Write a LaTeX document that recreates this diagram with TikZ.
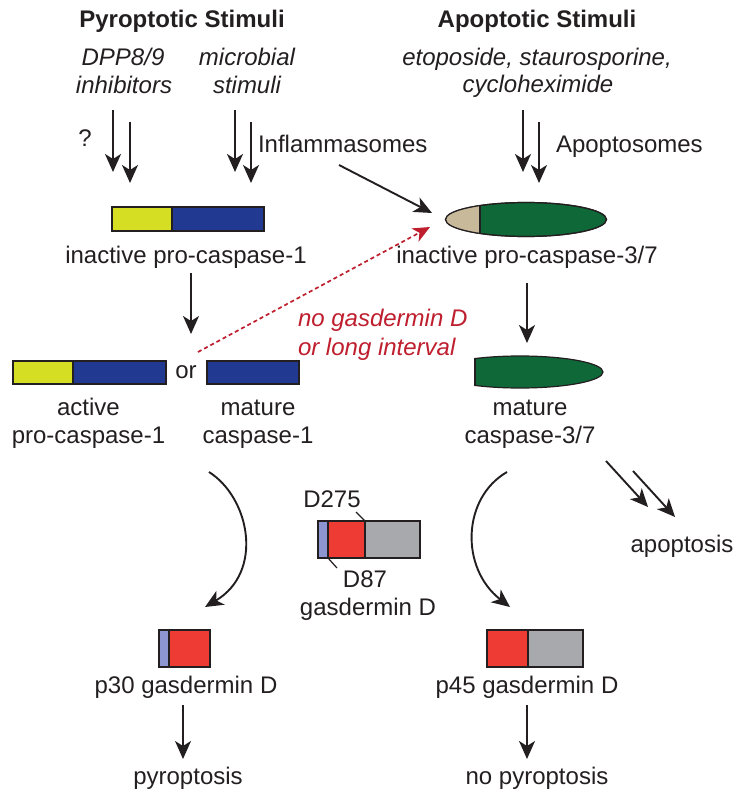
\documentclass[tikz,border=0pt]{standalone}
\usepackage{fontspec}
\setmainfont{Liberation Sans}
\usetikzlibrary{arrows.meta,shapes.geometric}
\definecolor{cyel}{RGB}{214,222,36}
\definecolor{cblue}{RGB}{33,57,145}
\definecolor{ctan}{RGB}{200,185,155}
\definecolor{cgreen}{RGB}{14,104,55}
\definecolor{cred}{RGB}{238,59,51}
\definecolor{clblue}{RGB}{142,150,210}
\definecolor{cgrey}{RGB}{167,169,172}
\definecolor{ctxtred}{RGB}{190,30,45}
\definecolor{cline}{RGB}{35,31,32}
\begin{document}
\begin{tikzpicture}[x=1pt,y=-1pt,
  every node/.style={font=\fontsize{24}{27.5}\selectfont, inner sep=0pt, outer sep=0pt, text=cline},
  lbl/.style={anchor=base},
  lblw/.style={anchor=base west},
  bar/.style={draw=cline, line width=1.2pt, minimum height=#1, rectangle},
  bar/.default=24pt,
  arr/.style={draw=cline, line width=1.9pt, -{Stealth[length=18pt,width=16pt,inset=5pt]}},
  redarr/.style={draw=ctxtred, line width=1.7pt, dash pattern=on 4pt off 3pt, -{Stealth[length=17pt,width=15pt,inset=5pt]}},
  lead/.style={draw=cline, line width=1.2pt}
]
\useasboundingbox (0,0) rectangle (742,802);

% titles
\node[lbl, font=\fontsize{24}{27.5}\selectfont\bfseries] (pyro) at (182,28) {Pyroptotic Stimuli};
\node[lbl, font=\fontsize{24}{27.5}\selectfont\bfseries] (apo) at (537,28) {Apoptotic Stimuli};

% stimuli
\node[lbl, font=\fontsize{24}{27.5}\selectfont\itshape] (dpp1) at (123,66) {DPP8/9};
\node[lbl, font=\fontsize{24}{27.5}\selectfont\itshape] (dpp2) at (124,94) {inhibitors};
\node[lbl, font=\fontsize{24}{27.5}\selectfont\itshape] (mic1) at (247,66) {microbial};
\node[lbl, font=\fontsize{24}{27.5}\selectfont\itshape] (mic2) at (247,94) {stimuli};
\node[lbl, font=\fontsize{24}{27.5}\selectfont\itshape] (eto1) at (537,66) {etoposide, staurosporine,};
\node[lbl, font=\fontsize{24}{27.5}\selectfont\itshape] (eto2) at (538,93) {cycloheximide};

\node[lbl] (q) at (85,147) {?};
\node[lblw] (infl) at (258,153) {Inflammasomes};
\node[lblw] (apos) at (556,153) {Apoptosomes};

% stimulus arrows
\coordinate (a1s) at (113,110); \coordinate (a1e) at (113,172);
\coordinate (a2s) at (130,122); \coordinate (a2e) at (130,183);
\coordinate (a3s) at (235,110); \coordinate (a3e) at (235,172);
\coordinate (a4s) at (251,122); \coordinate (a4e) at (251,183);
\coordinate (a5s) at (523,110); \coordinate (a5e) at (523,172);
\coordinate (a6s) at (539,122); \coordinate (a6e) at (539,183);
\draw[arr] (a1s) -- (a1e);
\draw[arr] (a2s) -- (a2e);
\draw[arr] (a3s) -- (a3e);
\draw[arr] (a4s) -- (a4e);
\draw[arr] (a5s) -- (a5e);
\draw[arr] (a6s) -- (a6e);

% inactive pro-caspase-1
\node[bar, fill=cyel, minimum width=60pt] (ipy) at (142,219) {};
\node[bar, fill=cblue, minimum width=92pt] (ipb) at (218,219) {};
\node[lbl] (lipc1) at (186,263) {inactive pro-caspase-1};

% inactive pro-caspase-3/7
\node[ellipse, draw=cline, line width=1.2pt, fill=cgreen, minimum width=161pt, minimum height=34pt] (pc37) at (526,219.5) {};
\begin{scope}
  \clip (440,195) rectangle (480,245);
  \fill[ctan] (pc37.center) ellipse (80.5pt and 17pt);
\end{scope}
\draw[cline, line width=1.2pt] (480,205.6) -- (480,233.4);
\draw[cline, line width=1.2pt] (pc37.center) ellipse (80.5pt and 17pt);
\node[lbl] (lipc37) at (527,263) {inactive pro-caspase-3/7};

% inflammasome arrow
\coordinate (inS) at (339,165); \coordinate (inE) at (432,213);
\draw[arr] (inS) -- (inE);

% down arrows
\coordinate (d1s) at (191,273); \coordinate (d1e) at (191,334);
\draw[arr] (d1s) -- (d1e);
\coordinate (d2s) at (527,283); \coordinate (d2e) at (527,343);
\draw[arr] (d2s) -- (d2e);

% active / mature caspase-1
\node[bar=23pt, fill=cyel, minimum width=60pt] (apy) at (43,372.5) {};
\node[bar=23pt, fill=cblue, minimum width=93pt] (apb) at (119.5,372.5) {};
\node[lbl] (or) at (186,378) {or};
\node[bar=23pt, fill=cblue, minimum width=92pt] (mc1) at (253,372.5) {};
\node[lbl] (lapc1a) at (88.5,415) {active};
\node[lbl] (lapc1b) at (88.5,443) {pro-caspase-1};
\node[lbl] (lmc1a) at (258,415) {mature};
\node[lbl] (lmc1b) at (258,443) {caspase-1};

% red dotted arrow and text
\coordinate (rs) at (198,352); \coordinate (re) at (430,227);
\draw[redarr] (rs) -- (re);
\node[lblw, font=\fontsize{24}{27.5}\selectfont\itshape, text=ctxtred] (red1) at (298,326) {no gasdermin D};
\node[lblw, font=\fontsize{24}{27.5}\selectfont\itshape, text=ctxtred] (red2) at (298,355) {or long interval};

% mature caspase-3/7
\node[minimum width=128pt, minimum height=31pt] (m37) at (539,372) {};
\begin{scope}
  \clip (474,340) rectangle (620,400);
  \fill[cgreen] (520,372) ellipse (83pt and 16pt);
  \draw[cline, line width=1.2pt] (520,372) ellipse (83pt and 16pt);
\end{scope}
\draw[cline, line width=1.2pt] (475,358.6) -- (475,385.4);
\node[lbl] (lm37a) at (530,415) {mature};
\node[lbl] (lm37b) at (530,443) {caspase-3/7};

% apoptosis
\coordinate (p1s) at (606,461); \coordinate (p1e) at (648,507);
\coordinate (p2s) at (633,471); \coordinate (p2e) at (675,517);
\draw[arr] (p1s) -- (p1e);
\draw[arr] (p2s) -- (p2e);
\node[lbl] (apop) at (682,552) {apoptosis};

% curved arrows
\coordinate (c1s) at (209,472); \coordinate (c1e) at (205,607);
\draw[arr] (c1s) .. controls (250,498) and (264,572) .. (c1e);
\coordinate (c2s) at (507,472); \coordinate (c2e) at (510,607);
\draw[arr] (c2s) .. controls (462,498) and (460,568) .. (c2e);

% full gasdermin D
\node[bar=37pt, fill=clblue, minimum width=10pt] (gb) at (323,539.5) {};
\node[bar=37pt, fill=cred, minimum width=37pt] (gr) at (346.5,539.5) {};
\node[bar=37pt, fill=cgrey, minimum width=55pt] (gg) at (392.5,539.5) {};
\node[lbl] (d275) at (332,507) {D275};
\node[lbl] (d87) at (365,587) {D87};
\node[lbl] (lgsd) at (368,615) {gasdermin D};
\draw[lead] (356,512) -- (gr.north east);
\draw[lead] (gb.south east) -- (337,568);

% p30
\node[bar=37pt, fill=clblue, minimum width=10pt] (p30b) at (164,648.5) {};
\node[bar=37pt, fill=cred, minimum width=41pt] (p30r) at (189.5,648.5) {};
\node[lbl] (lp30) at (186,693) {p30 gasdermin D};
\coordinate (v1s) at (183,705); \coordinate (v1e) at (183,759);
\draw[arr] (v1s) -- (v1e);
\node[lbl] (pyr) at (188,784) {pyroptosis};

% p45
\node[bar=37pt, fill=cred, minimum width=41pt] (p45r) at (507.5,648.5) {};
\node[bar=37pt, fill=cgrey, minimum width=55pt] (p45g) at (555.5,648.5) {};
\node[lbl] (lp45) at (527,693) {p45 gasdermin D};
\coordinate (v2s) at (527,705); \coordinate (v2e) at (527,759);
\draw[arr] (v2s) -- (v2e);
\node[lbl] (npyr) at (537,784) {no pyroptosis};
\end{tikzpicture}
\end{document}
